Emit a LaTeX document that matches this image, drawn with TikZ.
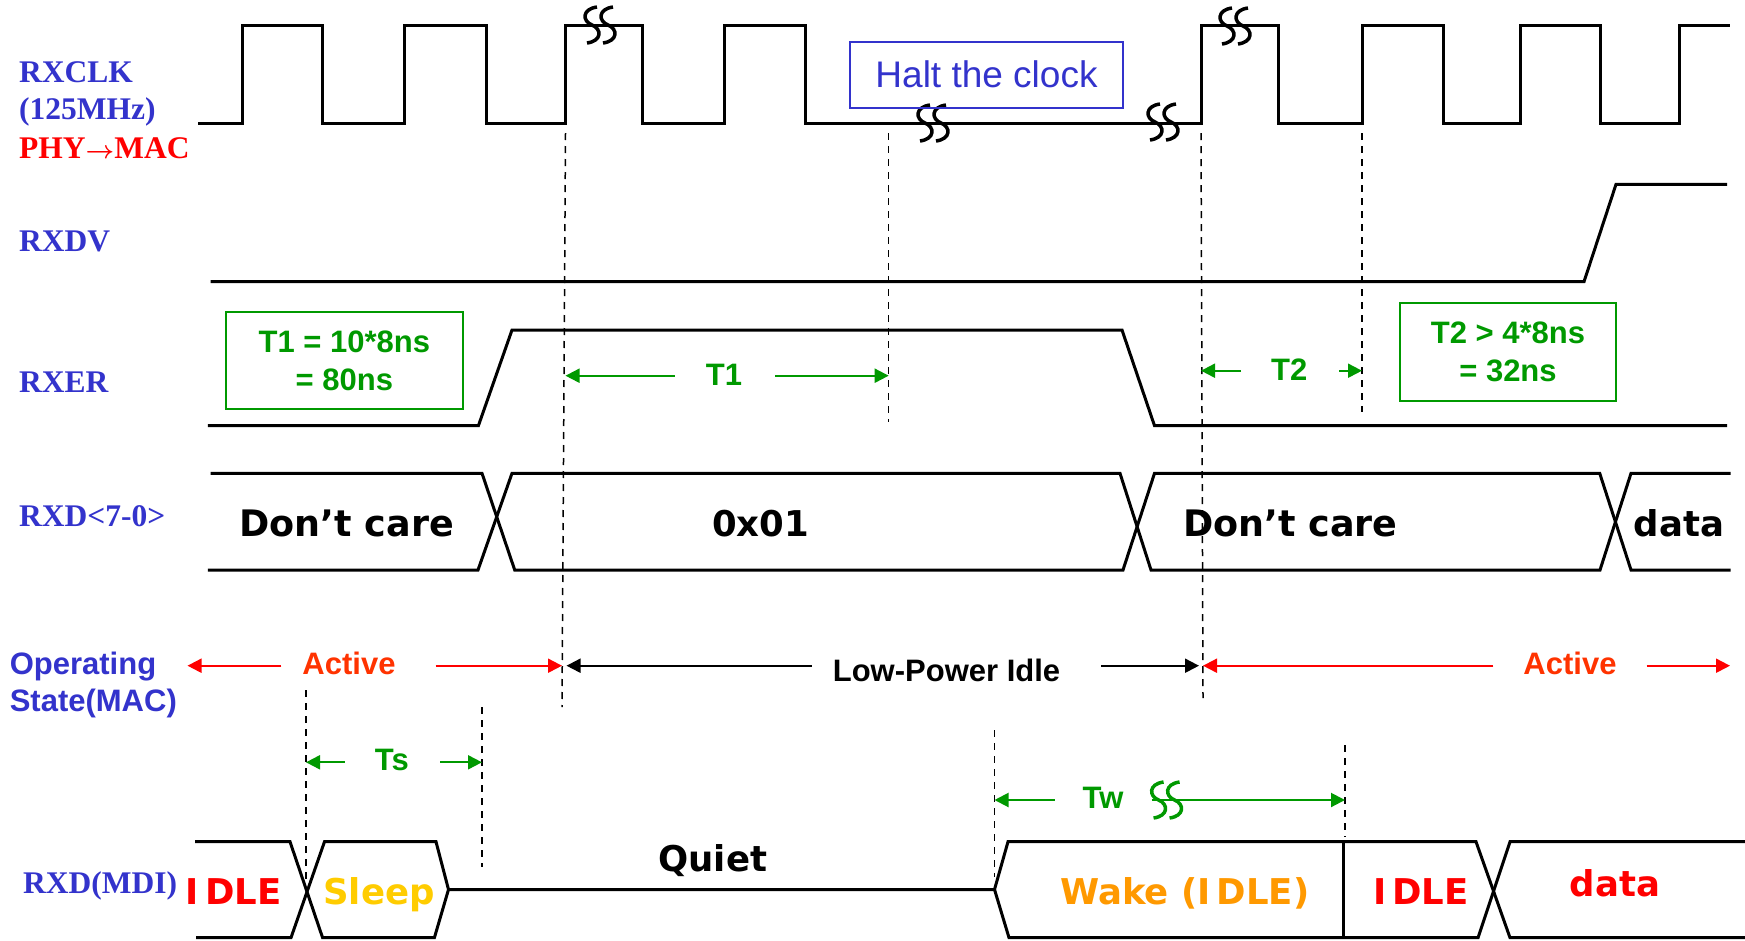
\documentclass[tikz,border=0pt]{standalone}
\usepackage{amsmath}
\usepackage{fontspec}
\usetikzlibrary{arrows.meta,calc,positioning}
\newfontfamily\timesfam{Liberation Serif}
\newfontfamily\arialfam{Liberation Sans}
\newfontfamily\verdfam{DejaVu Sans}
\definecolor{sigblue}{RGB}{51,51,204}
\definecolor{siggreen}{RGB}{0,153,0}
\definecolor{actred}{RGB}{255,51,0}
\definecolor{sleepyellow}{RGB}{255,204,0}
\definecolor{wakeorange}{RGB}{255,153,0}
\newcommand{\lblfont}{\timesfam\bfseries\fontsize{31.5}{37.8}\selectfont}
\newcommand{\annfont}{\arialfam\bfseries\fontsize{31}{37.7}\selectfont}
\newcommand{\busfont}{\verdfam\bfseries\fontsize{35.5}{42}\selectfont}
\newcommand{\haltfont}{\arialfam\fontsize{37}{44}\selectfont}
\newcommand{\brkS}[2][black]{%
 \begin{scope}[shift={(#2)}]
 \foreach \dx in {-8,8}
  \draw[#1,line width=3.5pt] (\dx+5,-18) .. controls (\dx-10,-16) and (\dx-10,-4) .. (\dx,0)
   .. controls (\dx+10,4) and (\dx+10,16) .. (\dx-5,18);
 \end{scope}}

\begin{document}
\begin{tikzpicture}[x=1pt,y=-1pt,>={Triangle[length=14pt,width=14pt]},
 sig/.style={line width=3pt},
 guide/.style={line width=1.5pt,dash pattern=on 7pt off 6pt},
 garrow/.style={->,siggreen,line width=2pt},
 lbl/.style={font=\lblfont,text=sigblue,anchor=base west,inner sep=0},
 ann/.style={font=\annfont,anchor=base,inner sep=0},
 bustxt/.style={font=\busfont,anchor=base,inner sep=0},
 gbox/.style={draw=siggreen,line width=2pt,text=siggreen,font=\annfont,align=center,inner sep=0}]
% piksele obrazu: x w prawo, y w dol
\path[fill=white,use as bounding box] (0,0) rectangle (1745,940);
\node[lbl] (lclk) at (19,82.7) {RXCLK};
\node[lbl] (lmhz) at (19,119.5) {(125MHz)};
\node[lbl,text=red] (ldir) at (19,158.3) {PHY$\boldsymbol{\rightarrow}$MAC};
\node[lbl] (ldv) at (19,251.7) {RXDV};
\node[lbl] (ler) at (19,392.7) {RXER};
\node[lbl] (lrxd) at (19,526) {RXD<7-0>};
\node[ann,text=sigblue,anchor=base west] (lop1) at (9.6,674) {Operating};
\node[ann,text=sigblue,anchor=base west] (lop2) at (9.6,711) {State(MAC)};
\node[lbl] (lmdi) at (23,893) {RXD(MDI)};
% linie pomocnicze
\coordinate (gA) at (565.5,133); \coordinate (gAb) at (562,707);
\coordinate (gB) at (888.7,133); \coordinate (gBb) at (888.7,422);
\coordinate (gC) at (1201,133); \coordinate (gCb) at (1203,698);
\coordinate (gD) at (1362,133); \coordinate (gDb) at (1362,412);
\coordinate (gE) at (306,690); \coordinate (gEb) at (306,885);
\coordinate (gF) at (482,707); \coordinate (gFb) at (482,867);
\coordinate (gG) at (994.5,730); \coordinate (gGb) at (994.5,877);
\coordinate (gH) at (1345,745); \coordinate (gHb) at (1345,837);
\foreach \g in {A,B,C,D,E,F,G,H}
 \draw[guide] (g\g) -- (g\g b);
% RXCLK
\draw[sig] (198,123) -- (242,123) -- (242,25.5) -- (322.6,25.5) -- (322.6,123)
 -- (404.5,123) -- (404.5,25.5) -- (486,25.5) -- (486,123) -- (565.5,123)
 -- (565.5,25.5) -- (642,25.5) -- (642,123) -- (724,123) -- (724,25.5)
 -- (805,25.5) -- (805,123) -- (1201,123) -- (1201,25.5) -- (1278,25.5)
 -- (1278,123) -- (1362,123) -- (1362,25.5) -- (1443,25.5) -- (1443,123)
 -- (1520,123) -- (1520,25.5) -- (1600,25.5) -- (1600,123) -- (1679,123)
 -- (1679,25.5) -- (1729.5,25.5);
\brkS{600,25}
\brkS{933,123}
\brkS{1163,122}
\brkS{1235,26}
\node[draw=sigblue,line width=2pt,text=sigblue,font=\haltfont,inner sep=0,
 minimum width=273,minimum height=66] (halt) at (986.5,74.7) {Halt the clock};
% RXDV, RXER
\draw[sig] (210.5,281.7) -- (1584,281.7) -- (1616,184.3) -- (1727,184.3);
\draw[sig] (207.8,425.7) -- (478.4,425.7) -- (512,330) -- (1122,330)
 -- (1154.5,425.7) -- (1727,425.7);
\node[gbox,minimum width=237,minimum height=97.6] (t1box) at (344.4,360.5)
 {T1 = 10*8ns\\= 80ns};
\node[gbox,minimum width=215.5,minimum height=98.3] (t2box) at (1508,351.9)
 {T2 > 4*8ns\\= 32ns};
\coordinate (t1row) at (0,375.7);
\node[ann,text=siggreen] (t1) at (724,385) {T1};
\draw[garrow] ($(t1.west |- t1row)+(-31,0)$) -- (gA |- t1row);
\draw[garrow] ($(t1.east |- t1row)+(33,0)$) -- (gB |- t1row);
\coordinate (t2row) at (0,370.7);
\node[ann,text=siggreen] (t2) at (1289.3,380) {T2};
\draw[garrow] ($(t2.west |- t2row)+(-30,0)$) -- (gC |- t2row);
\draw[garrow] ($(t2.east |- t2row)+(31.5,0)$) -- (gD |- t2row);
% RXD<7-0>
\draw[sig] (210.5,473.3) -- (482,473.3) -- (514.7,570) -- (1123,570)
 -- (1154.5,473.3) -- (1599.7,473.3) -- (1631,570) -- (1730.6,570);
\draw[sig] (207.8,570) -- (478,570) -- (512,473.3) -- (1120,473.3)
 -- (1151,570) -- (1600,570) -- (1631,473.3) -- (1730.6,473.3);
\node[bustxt,font=\verdfam\bfseries\fontsize{36.5}{42}\selectfont] (dc1) at (346.8,536.7) {Don’t care};
\node[bustxt] (v01) at (760.5,536.7) {0x01};
\node[bustxt,font=\verdfam\bfseries\fontsize{36.5}{42}\selectfont] (dc2) at (1290.3,536.7) {Don’t care};
\node[bustxt] (dat1) at (1679,536.7) {data};
% stan MAC
\coordinate (oprow) at (0,665.7);
\coordinate (stL) at (187.5,665.7);
\coordinate (stR) at (1730,665.7);
\node[ann,text=actred] (act1) at (349,674) {Active};
\node[ann] (lpi) at (946.5,681.7) {Low-Power Idle};
\node[ann,text=actred] (act2) at (1570,674) {Active};
\draw[->,red,line width=2pt] ($(act1.west |- oprow)+(-21,0)$) -- (stL);
\draw[->,red,line width=2pt] ($(act1.east |- oprow)+(40,0)$) -- (gAb |- oprow);
\draw[->,line width=2pt,shorten >=4.5pt] ($(lpi.west |- oprow)+(-21,0)$) -- (gAb |- oprow);
\draw[->,line width=2pt,shorten >=4pt] ($(lpi.east |- oprow)+(41,0)$) -- (gCb |- oprow);
\draw[->,red,line width=2pt] ($(act2.west |- oprow)+(-30,0)$) -- (gCb |- oprow);
\draw[->,red,line width=2pt] ($(act2.east |- oprow)+(30,0)$) -- (stR);
% Ts, Tw
\coordinate (tsrow) at (0,762.3);
\node[ann,text=siggreen] (ts) at (391.8,770.7) {Ts};
\draw[garrow] ($(ts.west |- tsrow)+(-30,0)$) -- (gE |- tsrow);
\draw[garrow] ($(ts.east |- tsrow)+(31.5,0)$) -- (gF |- tsrow);
\coordinate (twrow) at (0,800);
\node[ann,text=siggreen] (tw) at (1103,808.3) {Tw};
\draw[garrow] ($(tw.west |- twrow)+(-27.5,0)$) -- (gG |- twrow);
\draw[garrow] ($(tw.east |- twrow)+(28,0)$) -- (gH |- twrow);
\coordinate (twbrk) at ($(tw.east |- twrow)+(43,0)$);
\brkS[siggreen]{twbrk}
% RXD(MDI)
\draw[sig] (195,841.7) -- (290,841.7) -- (322.6,937.7) -- (434.4,937.7)
 -- (448.5,889.5) -- (994.5,889.5) -- (1009,937.7) -- (1478,937.7)
 -- (1510,841.7) -- (1745,841.7);
\draw[sig] (196,937.7) -- (291,937.7) -- (324.5,841.7) -- (436,841.7) -- (448.5,889.5);
\draw[sig] (994.5,889.5) -- (1008,841.7) -- (1476,841.7) -- (1510,937.7) -- (1745,937.7);
\draw[sig] (1343.5,841.7) -- (1343.5,937.7);
\node[bustxt,text=red] (idle1) at (233.7,904) {I\kern6pt DLE};
\node[bustxt,text=sleepyellow] (sleep) at (379,904) {Sleep};
\node[bustxt] (quiet) at (712.7,871.7) {Quiet};
\node[bustxt,text=wakeorange] (wake) at (1184.8,904) {Wake (I\kern6pt DLE)};
\node[bustxt,text=red] (idle2) at (1421,904) {I\kern6pt DLE};
\node[bustxt,text=red] (dat2) at (1615,896.7) {data};
\end{tikzpicture}
\end{document}
